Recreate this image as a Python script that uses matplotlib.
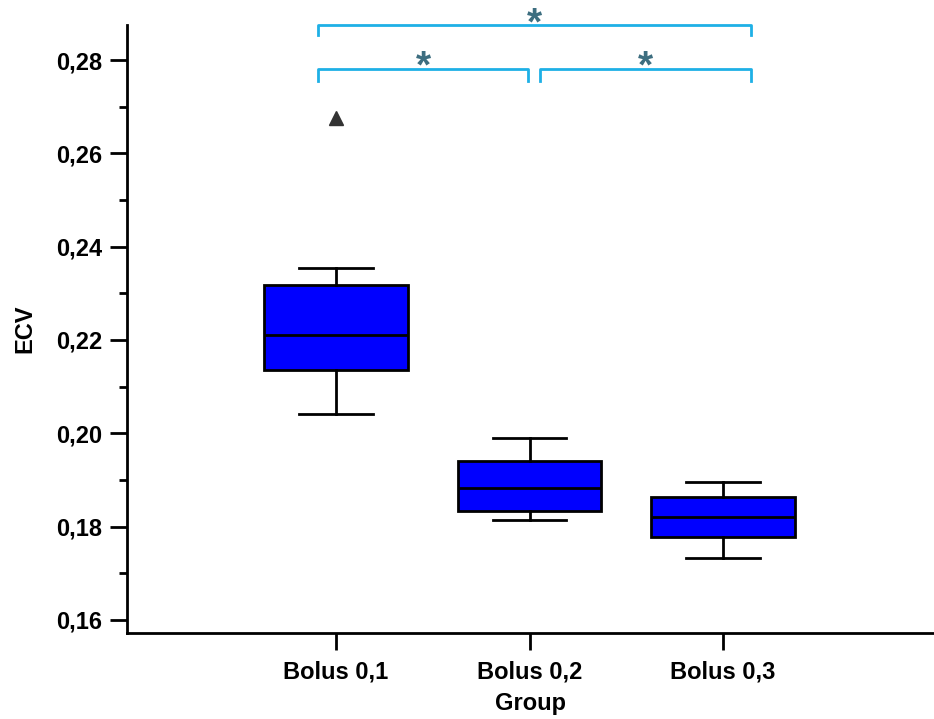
import numpy as np
import matplotlib.pyplot as plt

plt.rcParams['font.family'] = ['Liberation Sans', 'DejaVu Sans']
plt.rcParams['font.weight'] = 'bold'

# data
groups = ['Bolus 0,1', 'Bolus 0,2', 'Bolus 0,3']
whislo = [0.2041, 0.1814, 0.1733]
q1 = [0.2136, 0.1834, 0.1778]
med = [0.2211, 0.1883, 0.1821]
q3 = [0.2318, 0.1941, 0.1864]
whishi = [0.2354, 0.1990, 0.1896]
outliers = [[0.2676], [], []]

# significance brackets: (left group, right group, level)
pairs = [(1, 2, 0), (2, 3, 0), (1, 3, 1)]
labels = ['*', '*', '*']

fig = plt.figure(figsize=(9.34, 7.19), dpi=100)
ax = fig.add_axes([0.136, 0.1196, 0.864, 0.8456])

stats = [dict(whislo=whislo[i], q1=q1[i], med=med[i], q3=q3[i],
              whishi=whishi[i], fliers=outliers[i], label=groups[i])
         for i in range(len(groups))]
pos = np.arange(1, len(groups) + 1)

lw = 2.0
ax.bxp(stats, positions=pos, widths=0.74, patch_artist=True,
       showfliers=True,
       boxprops=dict(facecolor='#0000FF', edgecolor='black', linewidth=lw),
       medianprops=dict(color='black', linewidth=lw),
       whiskerprops=dict(color='black', linewidth=lw),
       capprops=dict(color='black', linewidth=lw),
       capwidths=0.38,
       flierprops=dict(marker='^', markerfacecolor='#333333',
                       markeredgecolor='#333333', markersize=10))

ax.set_xlim(-0.08, 4.09)
ax.set_ylim(0.1572, 0.2875)
ax.set_yticks(np.arange(0.16, 0.281, 0.02))
ax.set_yticks(np.arange(0.17, 0.281, 0.02), minor=True)
ax.set_yticklabels([f'{v:.2f}'.replace('.', ',') for v in np.arange(0.16, 0.281, 0.02)])
ax.set_xticks(pos)
ax.set_xticklabels(groups)

for s in ['top', 'right']:
    ax.spines[s].set_visible(False)
for s in ['left', 'bottom']:
    ax.spines[s].set_linewidth(2.0)

ax.tick_params(axis='both', which='major', direction='out', length=12,
               width=2.0, labelsize=17, pad=6)
ax.tick_params(axis='y', which='minor', direction='out', length=6, width=2.0)
ax.tick_params(axis='x', pad=8)

ax.set_ylabel('ECV', fontsize=17, fontweight='bold', labelpad=14)
ax.set_xlabel('Group', fontsize=17, fontweight='bold', labelpad=6)

# brackets
bcol = '#1EB0E6'
acol = '#3D6E80'
levels = [(0.2781, 0.2755), (0.2875, 0.2854)]
for (a, b, lv), lab in zip(pairs, labels):
    ytop, ybot = levels[lv]
    x0 = a - 0.093 if a == 1 else a + 0.054
    x1 = b + 0.145 if b == 3 else b - 0.008
    ax.plot([x0, x0, x1, x1], [ybot, ytop, ytop, ybot], color=bcol,
            linewidth=2.0, clip_on=False, solid_joinstyle='round')
    ax.text((x0 + x1) / 2, ytop + 0.0002, lab, color=acol, fontsize=28,
            ha='center', va='center', clip_on=False)

fig.savefig('out.png', dpi=100)
